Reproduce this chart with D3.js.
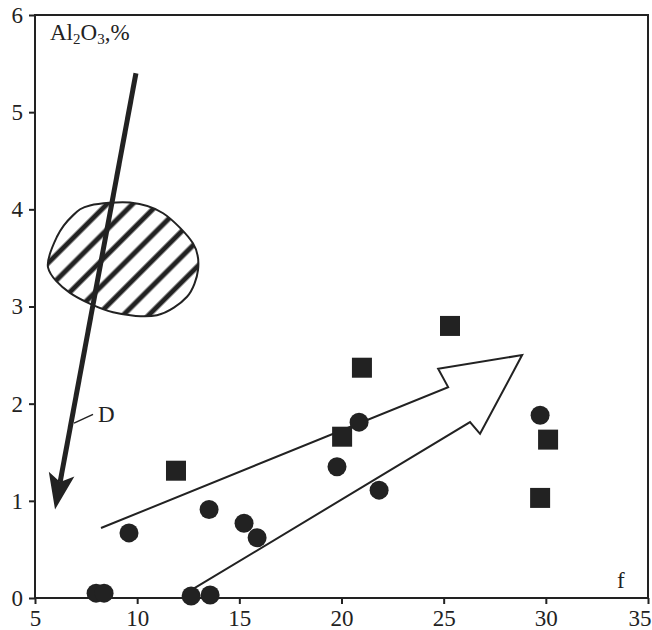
<!DOCTYPE html>
<html lang="en">
<head>
<meta charset="UTF-8">
<title>Al2O3 vs f</title>
<script src="https://cdn.jsdelivr.net/npm/d3@7/dist/d3.min.js"></script>
<style>
  body { margin: 0; background: #fff; }
  text { font-family: "Liberation Serif", "Times New Roman", serif; fill: #222; }
</style>
</head>
<body>
<svg width="652" height="630" id="main"></svg>
<script>
// ticks
const xTicks = [5, 10, 15, 20, 25, 30, 35];
const yTicks = [0, 1, 2, 3, 4, 5, 6];

// circles (f, Al2O3)
const circleF = [7.99, 8.38, 9.60, 12.64, 13.57, 13.52, 15.23, 15.87, 19.78, 20.86, 21.84, 29.72];
const circleA = [0.05, 0.05, 0.67, 0.02, 0.03, 0.91, 0.77, 0.62, 1.35, 1.81, 1.11, 1.88];

// squares
const squareF = [11.90, 20.03, 21.00, 25.31, 30.11, 29.72];
const squareA = [1.31, 1.66, 2.37, 2.80, 1.63, 1.03];

// hollow trend arrow outline (open at the tail)
const trendF = [8.23, 25.22, 24.73, 28.84, 26.78, 26.29, 12.64];
const trendA = [0.72, 2.17, 2.36, 2.50, 1.69, 1.81, 0.08];

// hatched field outline
const fieldF = [7.69, 9.65, 11.27, 12.73, 12.98, 12.44, 10.97, 8.82, 6.71, 5.64, 6.08, 6.86];
const fieldA = [4.04, 4.07, 3.96, 3.65, 3.38, 3.10, 2.91, 2.94, 3.14, 3.40, 3.72, 3.94];

// thick arrow D: start -> tip
const dArrowF = [9.94, 5.98];
const dArrowA = [5.40, 0.91];
// D label leader and text position
const dLeaderF = [6.91, 7.84];
const dLeaderA = [1.80, 1.89];
const dLabel = {f: 8.08, a: 1.81, text: "D"};

const width = 652, height = 630;
const margin = {top: 15, right: 4, bottom: 32, left: 35};
const ink = "#222";

const svg = d3.select("#main");

const x = d3.scaleLinear().domain([5, 35]).range([margin.left, width - margin.right]);
const y = d3.scaleLinear().domain([0, 6]).range([height - margin.bottom, margin.top]);

// hatch pattern
const defs = svg.append("defs");
defs.append("pattern")
    .attr("id", "hatch")
    .attr("patternUnits", "userSpaceOnUse")
    .attr("width", 18).attr("height", 18)
    .attr("patternTransform", "rotate(45)")
  .append("line")
    .attr("x1", 4).attr("y1", 0).attr("x2", 4).attr("y2", 18)
    .attr("stroke", ink).attr("stroke-width", 5);

// axes
svg.append("g")
    .attr("transform", `translate(0,${y(0)})`)
    .call(d3.axisBottom(x).tickValues(xTicks).tickFormat(d3.format("d")).tickSize(6).tickPadding(6))
    .call(g => g.select(".domain").remove())
    .call(g => g.selectAll(".tick line").attr("stroke", ink).attr("stroke-width", 2))
    .call(g => g.selectAll(".tick text").attr("font-size", 23).attr("fill", ink)
        .style("font-family", "Liberation Serif"))
    .call(g => g.select(".tick:last-of-type text").attr("text-anchor", "end").attr("x", 3));

svg.append("g")
    .attr("transform", `translate(${x(5)},0)`)
    .call(d3.axisLeft(y).tickValues(yTicks).tickFormat(d3.format("d")).tickSize(6).tickPadding(6))
    .call(g => g.select(".domain").remove())
    .call(g => g.selectAll(".tick line").attr("stroke", ink).attr("stroke-width", 2))
    .call(g => g.selectAll(".tick text").attr("font-size", 23).attr("fill", ink)
        .style("font-family", "Liberation Serif"));

// frame
svg.append("rect")
    .attr("x", x(5)).attr("y", y(6))
    .attr("width", x(35) - x(5)).attr("height", y(0) - y(6))
    .attr("fill", "none").attr("stroke", ink).attr("stroke-width", 2);

// hatched field
const fieldPts = fieldF.map((f, i) => [x(f), y(fieldA[i])]);
svg.append("path")
    .attr("d", d3.line().curve(d3.curveCardinalClosed.tension(0.1))(fieldPts))
    .attr("fill", "url(#hatch)")
    .attr("stroke", ink).attr("stroke-width", 2);

// thick arrow D
const [x0, y0] = [x(dArrowF[0]), y(dArrowA[0])];
const [x1, y1] = [x(dArrowF[1]), y(dArrowA[1])];
const ang = Math.atan2(y1 - y0, x1 - x0);
const headLen = 36, headHalf = 13, notch = 8;
const ux = Math.cos(ang), uy = Math.sin(ang);
const bx = x1 - ux * headLen, by = y1 - uy * headLen;
svg.append("line")
    .attr("x1", x0).attr("y1", y0)
    .attr("x2", x1 - ux * (headLen - notch)).attr("y2", y1 - uy * (headLen - notch))
    .attr("stroke", ink).attr("stroke-width", 5);
svg.append("path")
    .attr("d", `M${x1},${y1} L${bx - uy * headHalf},${by + ux * headHalf} L${x1 - ux * (headLen - notch)},${y1 - uy * (headLen - notch)} L${bx + uy * headHalf},${by - ux * headHalf} Z`)
    .attr("fill", ink);

// D leader + label
svg.append("line")
    .attr("x1", x(dLeaderF[0])).attr("y1", y(dLeaderA[0]))
    .attr("x2", x(dLeaderF[1])).attr("y2", y(dLeaderA[1]))
    .attr("stroke", ink).attr("stroke-width", 1.5);
svg.append("text")
    .attr("x", x(dLabel.f)).attr("y", y(dLabel.a))
    .attr("font-size", 23)
    .text(dLabel.text);

// hollow trend arrow
const trendPts = trendF.map((f, i) => [x(f), y(trendA[i])]);
svg.append("path")
    .attr("d", d3.line()(trendPts))
    .attr("fill", "none")
    .attr("stroke", ink).attr("stroke-width", 2)
    .attr("stroke-linejoin", "miter");

// squares
const sq = 20;
svg.append("g").selectAll("rect")
    .data(squareF.map((f, i) => ({f, a: squareA[i]})))
    .join("rect")
    .attr("x", d => x(d.f) - sq / 2)
    .attr("y", d => y(d.a) - sq / 2)
    .attr("width", sq).attr("height", sq)
    .attr("fill", ink);

// circles
svg.append("g").selectAll("circle")
    .data(circleF.map((f, i) => ({f, a: circleA[i]})))
    .join("circle")
    .attr("cx", d => x(d.f))
    .attr("cy", d => y(d.a))
    .attr("r", 9.5)
    .attr("fill", ink);

// axis titles
const yTitle = svg.append("text")
    .attr("x", 50).attr("y", 40)
    .attr("font-size", 23);
yTitle.append("tspan").text("Al");
yTitle.append("tspan").attr("font-size", 15).attr("dy", 4).text("2");
yTitle.append("tspan").attr("dy", -4).text("O");
yTitle.append("tspan").attr("font-size", 15).attr("dy", 4).text("3");
yTitle.append("tspan").attr("dy", -4).text(",%");

svg.append("text")
    .attr("x", 617).attr("y", 588)
    .attr("font-size", 23)
    .text("f");
</script>
</body>
</html>
